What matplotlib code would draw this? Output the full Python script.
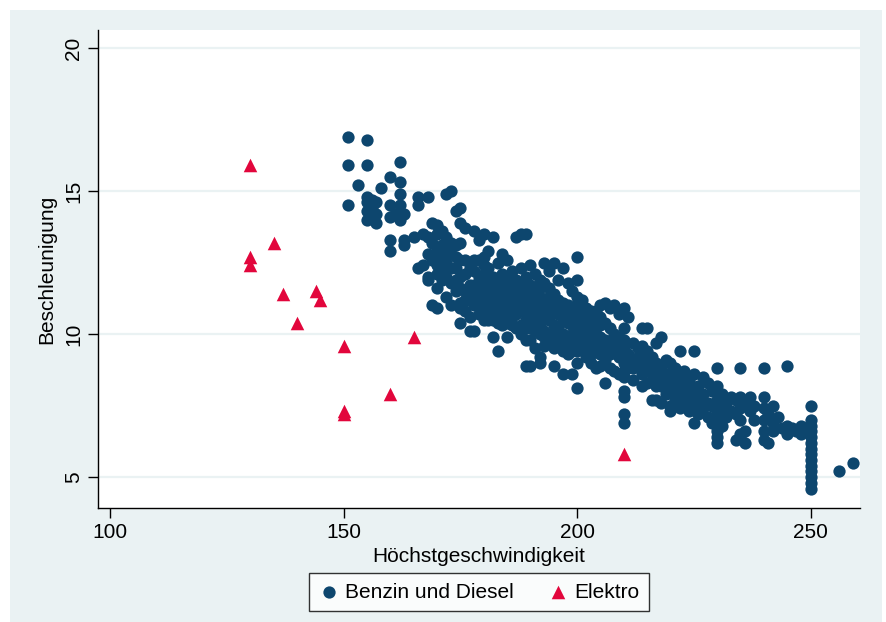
import numpy as np
import matplotlib
matplotlib.use("Agg")
import matplotlib.pyplot as plt
from matplotlib.patches import Rectangle

plt.rcParams["font.family"] = ["Liberation Sans", "DejaVu Sans"]

# ── Daten ─────────────────────────────────────────────
# Benzin und Diesel: (Höchstgeschwindigkeit, [Beschleunigungen])
fuel_columns = [
    (151, [16.9, 15.9, 14.5]), (153, [15.2]),
    (155, [16.8, 15.9, 14.8, 14.6, 14.3, 14.0]), (156, [14.4, 14.7, 14.1]),
    (157, [14.6, 13.9, 14.2]), (158, [15.1]),
    (160, [15.5, 14.5, 14.1, 13.3, 12.9]), (161, [14.2]),
    (162, [16.0, 15.3, 14.9, 14.5, 14.0]), (163, [13.3, 13.1, 14.2]),
    (165, [13.4]), (166, [14.8, 14.5, 12.3]), (167, [12.4, 13.5]),
    (168, [14.8, 13.4, 12.0, 11.9, 12.8]), (169, [13.9, 11.0, 12.6, 13.2]),
    (170, [13.8, 13.0, 12.7, 12.4, 11.6, 10.9, 13.5, 12.1]),
    (171, [13.6, 13.1, 12.8, 12.2, 11.9, 12.5]),
    (172, [14.9, 13.4, 12.5, 12.0, 13.0, 11.3]),
    (173, [15.0, 13.2, 12.8, 11.8, 11.0, 12.3]),
    (174, [14.3, 13.1, 12.3, 11.5, 12.7, 11.9]),
    (175, [14.4, 13.9, 13.2, 12.0, 11.1, 10.4, 10.9, 12.6, 11.6]),
    (176, [13.7, 12.6, 11.5, 10.8, 12.1, 11.2]), (177, [12.3, 11.2, 10.1, 11.7, 10.6]),
    (178, [13.6, 12.2, 11.7, 10.1, 11.0, 12.6, 11.4]),
    (179, [13.3, 12.6, 12.0, 11.4, 10.7, 11.1, 11.8]),
    (180, [13.5, 12.7, 12.1, 11.6, 11.0, 10.5, 11.3, 12.4]),
    (181, [12.9, 12.3, 11.8, 11.2, 10.8, 11.5, 10.5]),
    (182, [13.4, 12.0, 11.5, 11.0, 9.9, 10.5, 11.8, 10.8]),
    (183, [12.5, 11.9, 11.3, 10.7, 9.4, 11.6, 11.0, 10.4]),
    (184, [12.8, 12.1, 11.6, 11.1, 10.3, 10.8, 11.4]),
    (185, [12.6, 12.0, 11.4, 10.9, 10.4, 9.9, 11.7, 10.6]),
    (186, [12.2, 11.7, 11.2, 10.6, 11.0, 10.3, 11.9]),
    (187, [13.4, 11.9, 11.5, 11.0, 10.2, 10.7, 11.2]),
    (188, [13.5, 12.3, 11.8, 11.3, 10.8, 10.3, 11.0, 10.0]),
    (189, [13.5, 12.0, 11.0, 10.5, 8.9, 11.5, 10.2, 9.8]),
    (190, [12.4, 11.7, 11.2, 10.7, 10.2, 9.8, 8.9, 10.9, 11.4]),
    (191, [12.1, 11.5, 11.0, 10.4, 9.5, 10.1, 10.7]),
    (192, [11.9, 11.3, 10.8, 10.3, 9.2, 9.0, 10.0, 11.6]),
    (193, [12.5, 11.8, 11.1, 10.6, 10.1, 9.6, 10.8, 9.9]),
    (194, [12.2, 11.6, 11.0, 10.5, 10.0, 9.7, 11.3]),
    (195, [12.5, 11.4, 10.8, 10.3, 9.8, 8.9, 10.0, 9.5]),
    (196, [11.9, 11.2, 10.7, 10.2, 9.6, 10.9, 9.9]),
    (197, [12.3, 11.1, 10.5, 10.0, 9.4, 8.6, 9.7, 10.8]),
    (198, [11.8, 11.0, 10.4, 9.9, 9.3, 10.7, 9.6]),
    (199, [11.5, 10.9, 10.3, 9.7, 8.6, 10.0, 9.4]),
    (200, [12.7, 11.9, 11.3, 10.8, 10.2, 9.8, 9.4, 9.0, 8.1, 11.0, 10.5, 9.6]),
    (201, [11.2, 10.6, 10.0, 9.5, 9.8, 10.3]), (202, [10.9, 10.3, 9.7, 9.2, 10.0, 9.5]),
    (203, [10.5, 10.0, 9.6, 9.0, 9.3, 10.8]), (204, [10.8, 10.2, 9.4, 8.8, 9.7]),
    (205, [11.0, 10.6, 9.9, 9.3, 8.9, 9.6, 10.3]), (206, [11.1, 10.4, 9.8, 9.1, 8.3, 9.5]),
    (207, [10.9, 10.2, 9.6, 8.8, 9.3]), (208, [11.0, 10.0, 9.4, 8.7, 9.7]),
    (209, [10.7, 9.9, 9.2, 8.6, 9.5]),
    (210, [10.9, 10.2, 9.5, 9.0, 8.5, 8.0, 7.8, 7.2, 6.9, 9.8, 8.7]),
    (211, [10.6, 9.3, 8.8, 9.0]), (212, [9.7, 9.1, 8.4, 8.8]), (213, [9.5, 8.9, 9.2]),
    (214, [10.2, 9.6, 9.0, 8.2, 8.6]), (215, [10.2, 9.4, 8.8, 8.3, 9.1]),
    (216, [9.2, 8.6, 7.7, 8.9]), (217, [9.7, 9.0, 8.5, 7.7, 8.2]),
    (218, [9.9, 8.8, 8.2, 7.6, 8.5]), (219, [9.1, 8.6, 7.9, 8.3]),
    (220, [9.0, 8.6, 8.0, 7.5, 7.3, 8.3]), (221, [8.8, 8.2, 7.7, 8.5]),
    (222, [9.4, 8.5, 7.9, 7.4, 8.2]), (223, [8.7, 8.1, 7.6]), (224, [8.4, 7.8, 7.3, 8.1]),
    (225, [9.4, 8.6, 8.0, 7.5, 6.9, 7.7]), (226, [8.2, 7.7, 7.2]), (227, [8.5, 7.9, 7.4]),
    (228, [8.3, 7.6, 7.1]), (229, [8.0, 7.5, 6.9]),
    (230, [8.8, 8.2, 7.7, 7.3, 6.6, 6.4, 6.2, 7.0]), (231, [7.9, 7.4, 6.8]),
    (232, [7.6, 7.1]), (233, [7.8, 7.3]), (234, [7.7, 7.2, 6.3]),
    (235, [8.8, 7.8, 7.4, 7.0, 6.5, 6.4]), (236, [7.6, 6.6, 6.2]),
    (237, [7.8, 7.3]), (238, [7.5, 7.0]), (240, [8.8, 7.8, 7.4, 7.0, 6.6, 6.3]),
    (241, [7.2, 6.2]), (242, [7.5, 6.9, 6.6]), (243, [7.1]), (244, [6.7]),
    (245, [8.9, 6.8, 6.5]), (246, [6.7]), (247, [6.6]), (248, [6.8, 6.5]), (249, [6.7]),
    (250, [7.5, 7.0, 6.8, 6.6, 6.4, 6.2, 6.0, 5.8, 5.6, 5.4, 5.2, 5.0, 4.8, 4.6]),
    (256, [5.2]), (259, [5.5]),
]
fuel_speed = np.array([s for s, ys in fuel_columns for _ in ys])
fuel_accel = np.array([y for _, ys in fuel_columns for y in ys])

# Elektro
elec_speed = [130, 130, 130, 135, 137, 140, 144, 145, 150, 150, 150, 160, 165, 210]
elec_accel = [15.9, 12.7, 12.4, 13.2, 11.4, 10.4, 11.5, 11.2, 9.6, 7.3, 7.2, 7.9, 9.9, 5.8]

NAVY = "#0d466e"
RED = "#e2063c"
BG = "#eaf2f3"
FS = 15

# ── Grafik ────────────────────────────────────────────
fig = plt.figure(figsize=(8.87, 6.22), dpi=100, facecolor="white")
fig.patches.append(Rectangle((10/887, 0), 872/887, 612/622, transform=fig.transFigure,
                             facecolor=BG, edgecolor="none", zorder=-10))
ax = fig.add_axes([98/887, 1-508/622, 762/887, 478/622])
ax.set_facecolor("white")

for yv in (5, 10, 15, 20):
    ax.axhline(yv, color=BG, lw=1.6, zorder=0)

ax.scatter(fuel_speed, fuel_accel, s=78, color=NAVY, marker="o", lw=0,
           label="Benzin und Diesel", zorder=3)
ax.scatter(elec_speed, elec_accel, s=95, color=RED, marker="^", lw=0,
           label="Elektro", zorder=4)

ax.set_xlim(97.4, 260.6)
ax.set_ylim(3.92, 20.63)
ax.set_xticks([100, 150, 200, 250])
ax.set_yticks([5, 10, 15, 20])
ax.tick_params(axis="both", direction="out", length=7, width=1, labelsize=FS, color="black")
plt.setp(ax.get_yticklabels(), rotation=90, va="center")
for sp in ("top", "right"):
    ax.spines[sp].set_visible(False)
for sp in ("left", "bottom"):
    ax.spines[sp].set_linewidth(1)

ax.set_xlabel("Höchstgeschwindigkeit", fontsize=FS, labelpad=4)
ax.set_ylabel("Beschleunigung", fontsize=FS, labelpad=6)

leg = fig.legend(loc="center", bbox_to_anchor=(479/887, 1-592/622), ncol=2,
                 fontsize=FS, frameon=True, fancybox=False, edgecolor="black",
                 handletextpad=0.3, columnspacing=1.6, borderpad=0.45,
                 handlelength=1.0, scatterpoints=1)
leg.get_frame().set_linewidth(1)

fig.savefig("out.png", dpi=100, facecolor=fig.get_facecolor())
